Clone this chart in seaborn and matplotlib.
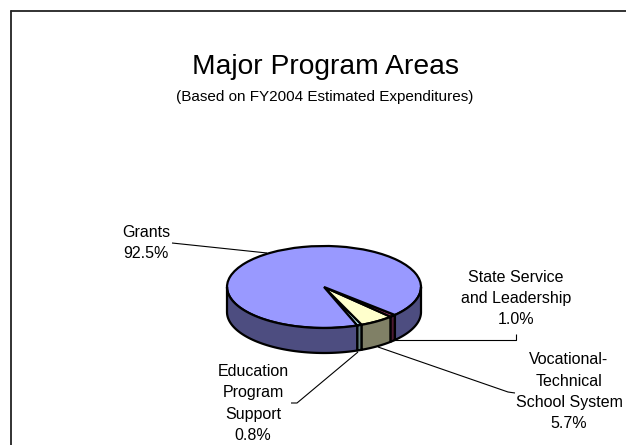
import numpy as np
import matplotlib
matplotlib.use("Agg")
import matplotlib.pyplot as plt
from matplotlib.lines import Line2D
from matplotlib.patches import Polygon
import seaborn as sns

# Program areas, counter-clockwise from the front of the pie
areas = ["Education\nProgram\nSupport", "Vocational-\nTechnical\nSchool System",
         "State Service\nand Leadership", "Grants"]
shares = [0.8, 5.7, 1.0, 92.5]
top_colors = ["#CCFFFF", "#FFFFCC", "#993366", "#9999FF"]
side_colors = ["#668080", "#808066", "#4D1A33", "#4D4D80"]
start_angle = -70

W, H = 626, 445
CX, CY, RX, RY, DEPTH = 324, 287, 97, 41, 25

sns.set_theme(style="white")
plt.rcParams["font.family"] = ["Liberation Sans", "DejaVu Sans"]
top_palette = sns.color_palette(top_colors)
side_palette = sns.color_palette(side_colors)

fig = plt.figure(figsize=(W / 100, H / 100), dpi=100, facecolor="white")
ax = fig.add_axes([0, 0, 1, 1])


def px(x, y):
    """Convert image pixels to the pie's unit coordinates."""
    return (x - CX) / RX, (CY - y) / RY


# Top face of the disc
wedges, _ = ax.pie(shares, colors=top_palette, startangle=start_angle, radius=1,
                   wedgeprops=dict(edgecolor="black", linewidth=1.6))
ax.set_aspect("auto")
x0, y1 = px(0, 0)
x1, y0 = px(W, H)
ax.set_xlim(x0, x1)
ax.set_ylim(y0, y1)
ax.axis("off")

# Rim of the disc: only the part of each slice facing the viewer
depth = DEPTH / RY
edges = start_angle + np.cumsum([0] + shares) * 3.6
for a, b, col in zip(edges[:-1], edges[1:], side_palette):
    for shift in (0, 360):
        lo, hi = max(a, 180 - shift), min(b, 360 - shift)
        if hi <= lo:
            continue
        t = np.radians(np.linspace(lo, hi, 60))
        upper = np.column_stack([np.cos(t), np.sin(t)])
        lower = (upper - [0, depth])[::-1]
        ax.add_patch(Polygon(np.vstack([upper, lower]), closed=True, facecolor=col,
                             edgecolor="black", linewidth=1.6, joinstyle="round", zorder=3))

# Chart area border: only its top and left edges fall on the page
frame = dict(color="#222222", lw=1.3, transform=fig.transFigure)
fig.add_artist(Line2D([11 / W, 1], [1 - 11 / H, 1 - 11 / H], **frame))
fig.add_artist(Line2D([11 / W, 11 / W], [0, 1 - 11 / H], **frame))

# Titles
fig.text(325 / W, 1 - 67 / H, "Major Program Areas", fontsize=20.3, ha="center", va="center", color="black")
fig.text(325 / W, 1 - 97 / H, "(Based on FY2004 Estimated Expenditures)", fontsize=10.95, ha="center",
         va="center", color="black")

# Leader lines and slice labels
leaders = [
    [(172, 243), (267, 253)],
    [(392, 340), (516, 340), (516, 334)],
    [(378, 347), (508, 392), (515, 393)],
    [(358, 352), (297, 403), (291, 403)],
]
for pts in leaders:
    xy = np.array([px(*p) for p in pts])
    ax.plot(xy[:, 0], xy[:, 1], color="black", lw=0.8, zorder=2, solid_capstyle="butt")

labels = [
    (146, 243, f"Grants\n{shares[3]}%"),
    (516, 298.5, f"{areas[2]}\n{shares[2]}%"),
    (569, 391.5, f"{areas[1]}\n{shares[1]}%"),
    (253, 403.5, f"{areas[0]}\n{shares[0]}%"),
]
for x, y, s in labels:
    fig.text(x / W, 1 - y / H, s, fontsize=11.5, ha="center", va="center", color="black", linespacing=1.5)

fig.savefig("out.png", dpi=100)
